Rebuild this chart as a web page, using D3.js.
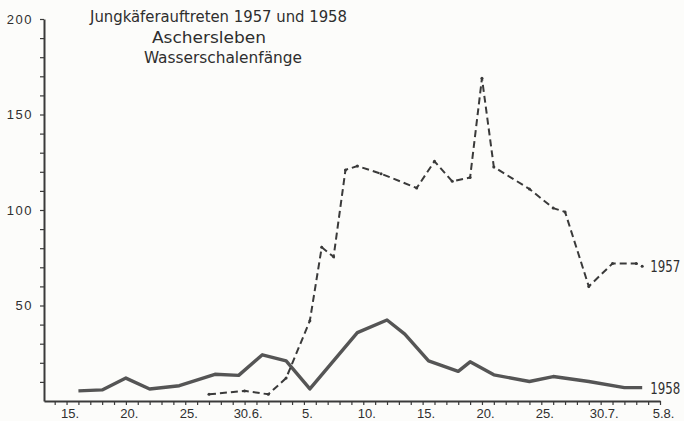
<!DOCTYPE html>
<html>
<head>
<meta charset="utf-8">
<script src="https://cdn.jsdelivr.net/npm/d3@7"></script>
<style>
  body { margin: 0; background: #fcfcfa; }
  svg { display: block; font-family: "DejaVu Sans Condensed", "DejaVu Sans", sans-serif; }
</style>
</head>
<body>
<svg id="chart"></svg>
<script>
// x positions are in "tick days" counted from 15.6. (one label every 5 ticks)
const xTickLabels = ['15.', '20.', '25.', '30.6.', '5.', '10.', '15.', '20.', '25.', '30.7.', '5.8.'];
const yTickLabels = [50, 100, 150, 200];

const days1957 = [12, 15, 17, 18.5, 20.5, 21.5, 22.5, 23.5, 24.5, 26.5, 29.5, 31, 32.5, 34, 35, 36, 39, 41, 42, 44, 46, 48, 48.5];
const values1957 = [3.5, 5.3, 3.5, 12, 42, 80.5, 75.5, 121, 123, 119, 111.5, 125.5, 115, 117, 169, 122.5, 111, 101, 99, 60, 72, 72, 70.5];

const days1958 = [1, 3, 5, 7, 9.5, 12.5, 14.5, 16.5, 18.5, 20.5, 24.5, 27, 28.5, 30.5, 33, 34, 36, 39, 41, 44, 47, 48.5];
const values1958 = [5.3, 5.8, 12, 6.3, 8, 14, 13.4, 24.2, 21, 6.3, 35.8, 42.4, 35, 21, 15.5, 20.5, 13.7, 10.2, 12.8, 10.2, 7, 7];

const titleLines = ['Jungkäferauftreten 1957 und 1958', 'Aschersleben', 'Wasserschalenfänge'];

const width = 684, height = 421;
const ink = '#3a3a3a';

const svg = d3.select('#chart')
    .attr('width', width)
    .attr('height', height);

const xscale = d3.scaleLinear()
    .domain([-1.9, 50])
    .range([44, 660]);

const yscale = d3.scaleLinear()
    .domain([0, 200])
    .range([401, 19]);

// axes
const xaxis = d3.axisBottom(xscale)
    .tickValues(d3.range(-1, 51))
    .tickSize(4)
    .tickSizeOuter(0)
    .tickPadding(4)
    .tickFormat(d => d >= 0 && d % 5 === 0 ? xTickLabels[d / 5] : '');

const yaxis = d3.axisLeft(yscale)
    .tickValues(d3.range(10, 201, 10))
    .tickSize(4)
    .tickSizeOuter(0)
    .tickPadding(8)
    .tickFormat(d => yTickLabels.includes(d) ? d : '');

const xg = svg.append('g')
    .attr('transform', `translate(0, ${yscale(0)})`)
    .call(xaxis);

const yg = svg.append('g')
    .attr('transform', `translate(${xscale.range()[0]}, 0)`)
    .call(yaxis);

[xg, yg].forEach(g => {
    g.select('.domain').attr('stroke', ink).attr('stroke-width', 2);
    g.selectAll('.tick line').attr('stroke', ink).attr('stroke-width', 1.2);
    g.selectAll('.tick text')
        .attr('fill', '#2f2f2f')
        .style('font-size', '13px');
});
xg.selectAll('.tick text').attr('dx', 3);
yg.selectAll('.tick text').attr('letter-spacing', 1.5).attr('dx', 1);

// lines
const line = d3.line()
    .x(d => xscale(d[0]))
    .y(d => yscale(d[1]));

const data1957 = d3.zip(days1957, values1957);
const data1958 = d3.zip(days1958, values1958);

svg.append('path')
    .datum(data1958)
    .attr('fill', 'none')
    .attr('stroke', '#555')
    .attr('stroke-width', 3.4)
    .attr('stroke-linejoin', 'round')
    .attr('d', line);

svg.append('path')
    .datum(data1957)
    .attr('fill', 'none')
    .attr('stroke', ink)
    .attr('stroke-width', 2)
    .attr('stroke-dasharray', '7,4')
    .attr('d', line);

svg.append('g')
    .selectAll('circle')
    .data(data1957)
    .join('circle')
    .attr('cx', d => xscale(d[0]))
    .attr('cy', d => yscale(d[1]))
    .attr('r', 1.5)
    .attr('fill', ink);

// series labels at the line ends
const last1957 = data1957[data1957.length - 1];
const last1958 = data1958[data1958.length - 1];
[[last1957, '1957'], [last1958, '1958']].forEach(([d, label]) => {
    svg.append('text')
        .attr('x', xscale(d[0]) + 8)
        .attr('y', yscale(d[1]) + 6)
        .attr('fill', '#2f2f2f')
        .attr('textLength', 30)
        .attr('lengthAdjust', 'spacingAndGlyphs')
        .style('font-size', '15px')
        .text(label);
});

// title
const titleBox = [
    { x: 90, y: 22, w: 257 },
    { x: 152, y: 43, w: 114 },
    { x: 144, y: 63, w: 158 }
];
titleLines.forEach((t, i) => {
    svg.append('text')
        .attr('x', titleBox[i].x)
        .attr('y', titleBox[i].y)
        .attr('fill', '#2e2e2e')
        .attr('textLength', titleBox[i].w)
        .attr('lengthAdjust', 'spacingAndGlyphs')
        .style('font-size', '16px')
        .text(t);
});
</script>
</body>
</html>
